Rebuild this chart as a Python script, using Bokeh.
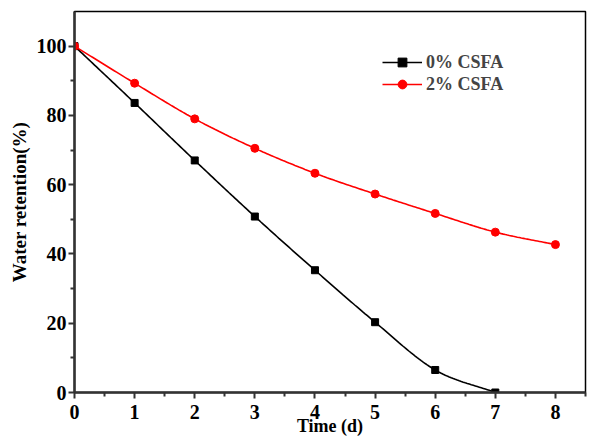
import numpy as np
from bokeh.plotting import figure
from bokeh.models import Range1d, Legend, LegendItem, FixedTicker
from bokeh.embed import file_html
from bokeh.resources import INLINE

# Water retention over time for two mixes
days = [0, 1, 2, 3, 4, 5, 6, 7, 8]
csfa_0 = [100, 83.6, 67.0, 50.8, 35.3, 20.3, 6.5, 0.0]
csfa_2 = [100, 89.3, 79.0, 70.5, 63.3, 57.3, 51.7, 46.3, 42.7]

FONT = "Liberation Serif"


def smooth(xs, ys, n=30):
    """Catmull-Rom curve through the given points."""
    x = np.asarray(xs, float)
    y = np.asarray(ys, float)
    px = np.concatenate([[2 * x[0] - x[1]], x, [2 * x[-1] - x[-2]]])
    py = np.concatenate([[2 * y[0] - y[1]], y, [2 * y[-1] - y[-2]]])
    out_x, out_y = [], []
    t = np.linspace(0, 1, n, endpoint=False)
    for i in range(1, len(px) - 2):
        for arr, src in ((out_x, px), (out_y, py)):
            p0, p1, p2, p3 = src[i - 1], src[i], src[i + 1], src[i + 2]
            arr.extend(0.5 * (2 * p1 + (-p0 + p2) * t
                              + (2 * p0 - 5 * p1 + 4 * p2 - p3) * t ** 2
                              + (-p0 + 3 * p1 - 3 * p2 + p3) * t ** 3))
    out_x.append(x[-1])
    out_y.append(y[-1])
    return out_x, out_y


p = figure(width=589, height=438, output_backend="svg", toolbar_location=None,
           x_range=Range1d(0, 8.5), y_range=Range1d(0, 110))
p.min_border_left = 74
p.min_border_right = 4
p.min_border_top = 11
p.min_border_bottom = 46
p.background_fill_color = "white"
p.border_fill_color = "white"
p.outline_line_color = "black"
p.outline_line_width = 1.5
p.grid.visible = False

bx, by = smooth(days[:len(csfa_0)], csfa_0)
rx, ry = smooth(days, csfa_2)
l0 = p.line(bx, by, line_color="black", line_width=1.6)
m0 = p.scatter(days[:len(csfa_0)], csfa_0, marker="square", size=7,
               fill_color="black", line_color="black")
l2 = p.line(rx, ry, line_color="#ff0000", line_width=1.6)
m2 = p.scatter(days, csfa_2, marker="circle", size=8,
               fill_color="#ff0000", line_color="#ff0000")

for ax in (p.xaxis[0], p.yaxis[0]):
    ax.axis_line_width = 2.5
    ax.axis_line_color = "#333333"
    ax.major_tick_line_width = 2
    ax.major_tick_line_color = "#333333"
    ax.minor_tick_line_width = 2
    ax.minor_tick_line_color = "#333333"
    ax.major_tick_out = 6
    ax.major_tick_in = 0
    ax.minor_tick_out = 4
    ax.minor_tick_in = 0
    ax.major_label_text_font = FONT
    ax.major_label_text_font_style = "bold"
    ax.major_label_text_font_size = "20px"
    ax.major_label_text_color = "black"
    ax.axis_label_text_font = FONT
    ax.axis_label_text_font_style = "bold"
    ax.axis_label_text_color = "black"

p.xaxis[0].ticker = FixedTicker(ticks=list(range(0, 9)),
                                minor_ticks=[i + 0.5 for i in range(0, 9)])
p.yaxis[0].ticker = FixedTicker(ticks=[0, 20, 40, 60, 80, 100],
                                minor_ticks=[10, 30, 50, 70, 90])
p.xaxis[0].axis_label = "Time (d)"
p.yaxis[0].axis_label = "Water retention(%)"
p.xaxis[0].axis_label_text_font_size = "18px"
p.yaxis[0].axis_label_text_font_size = "19px"
p.xaxis[0].major_label_standoff = 6
p.xaxis[0].axis_label_standoff = -6
p.yaxis[0].major_label_standoff = 2
p.yaxis[0].axis_label_standoff = 4

legend = Legend(items=[LegendItem(label="0% CSFA", renderers=[l0, m0]),
                       LegendItem(label="2% CSFA", renderers=[l2, m2])],
                location=(308, 297))
legend.background_fill_alpha = 0
legend.border_line_alpha = 0
legend.padding = 0
legend.margin = 0
legend.spacing = 0
legend.glyph_width = 40
legend.glyph_height = 22
legend.label_height = 22
legend.label_standoff = 4
legend.label_text_font = FONT
legend.label_text_font_style = "bold"
legend.label_text_font_size = "18px"
p.add_layout(legend, "center")

open("out.html", "w").write(file_html(p, INLINE))
